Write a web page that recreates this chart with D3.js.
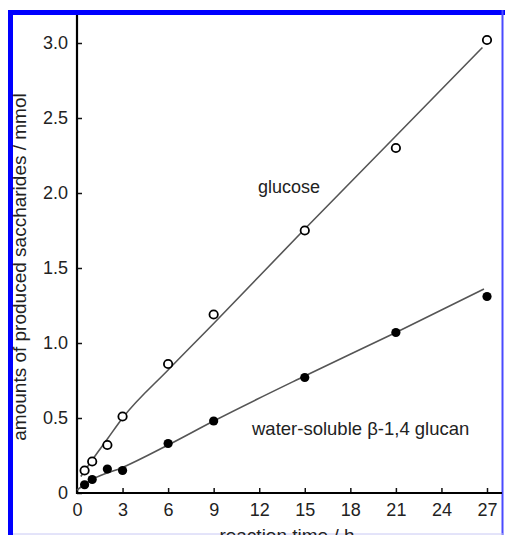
<!DOCTYPE html>
<html>
<head>
<meta charset="utf-8">
<script src="https://cdn.jsdelivr.net/npm/d3@7"></script>
<style>
  body { margin: 0; background: #fff; }
  svg { display: block; }
  text { font-family: "Liberation Sans", Arial, sans-serif; fill: #222; }
</style>
</head>
<body>
<div id="chart"></div>
<script>
// measured points
const hours = [0.5, 1, 2, 3, 6, 9, 15, 21, 27];
const glucose = [0.15, 0.21, 0.32, 0.51, 0.86, 1.19, 1.75, 2.30, 3.02];
const glucan = [0.055, 0.09, 0.16, 0.15, 0.33, 0.48, 0.77, 1.07, 1.31];

// fitted curves
const glucoseFitT = [0.25, 1, 2, 3, 6, 9, 15, 21, 26.7];
const glucoseFitY = [0.11, 0.22, 0.36, 0.50, 0.82, 1.13, 1.76, 2.38, 2.97];
const glucanFitT = [0, 1, 3, 6, 9, 15, 21, 26.8];
const glucanFitY = [0.02, 0.09, 0.17, 0.32, 0.48, 0.78, 1.07, 1.36];

const xTicks = [0, 3, 6, 9, 12, 15, 18, 21, 24, 27];
const yTicks = [0, 0.5, 1.0, 1.5, 2.0, 2.5, 3.0];

function drawChart() {
    const W = 505, H = 535;
    const svg = d3.select("#chart").append("svg")
        .attr("width", W)
        .attr("height", H);

    const x = d3.scaleLinear().domain([0, 27]).range([77, 487]);
    const y = d3.scaleLinear().domain([0, 3]).range([493, 43]);

    // blue frame
    svg.append("rect").attr("x", 8).attr("y", 10).attr("width", 497).attr("height", 5).attr("fill", "#0000ff");
    svg.append("rect").attr("x", 8).attr("y", 10).attr("width", 5).attr("height", 525).attr("fill", "#0000ff");
    svg.append("rect").attr("x", 501.5).attr("y", 10).attr("width", 2).attr("height", 525).attr("fill", "#4a4aff");
    svg.append("line").attr("x1", 13).attr("x2", 503).attr("y1", 534).attr("y2", 534)
        .attr("stroke", "#c8c8f4").attr("stroke-width", 1);

    // axes
    const xAxis = svg.append("g")
        .attr("transform", `translate(0,${y(0)})`)
        .call(d3.axisBottom(x).tickValues(xTicks).tickSize(-5).tickPadding(10).tickFormat(d3.format("d")));
    xAxis.select(".domain").remove();
    xAxis.selectAll(".tick line").attr("stroke", "#111").attr("stroke-width", 1.5);
    xAxis.selectAll("text").style("font-size", "18px").attr("fill", "#222").attr("dy", "0.72em");

    const yAxis = svg.append("g")
        .attr("transform", `translate(${x(0)},0)`)
        .call(d3.axisLeft(y).tickValues(yTicks).tickSize(-5).tickPadding(9)
            .tickFormat(d => d === 0 ? "0" : d.toFixed(1)));
    yAxis.select(".domain").remove();
    yAxis.selectAll(".tick line").attr("stroke", "#111").attr("stroke-width", 1.5);
    yAxis.selectAll("text").style("font-size", "18px").attr("fill", "#222");

    svg.append("line").attr("x1", x(0)).attr("x2", x(0)).attr("y1", 15).attr("y2", y(0) + 1)
        .attr("stroke", "#000").attr("stroke-width", 2.2);
    svg.append("line").attr("x1", x(0) - 1).attr("x2", 502).attr("y1", y(0)).attr("y2", y(0))
        .attr("stroke", "#000").attr("stroke-width", 2.2);

    // axis titles
    svg.append("text")
        .attr("transform", `translate(26,${267}) rotate(-90)`)
        .attr("text-anchor", "middle")
        .style("font-size", "19px")
        .text("amounts of produced saccharides / mmol");

    svg.append("text")
        .attr("x", 287)
        .attr("y", 542)
        .attr("text-anchor", "middle")
        .style("font-size", "19px")
        .text("reaction time / h");

    // fitted lines
    const line = d3.line()
        .x(d => x(d[0]))
        .y(d => y(d[1]))
        .curve(d3.curveMonotoneX);

    svg.append("path")
        .datum(d3.zip(glucoseFitT, glucoseFitY))
        .attr("d", line)
        .attr("fill", "none")
        .attr("stroke", "#555")
        .attr("stroke-width", 1.6);

    svg.append("path")
        .datum(d3.zip(glucanFitT, glucanFitY))
        .attr("d", line)
        .attr("fill", "none")
        .attr("stroke", "#555")
        .attr("stroke-width", 1.6);

    // points
    svg.append("g").selectAll("circle")
        .data(d3.zip(hours, glucan))
        .enter().append("circle")
        .attr("cx", d => x(d[0]))
        .attr("cy", d => y(d[1]))
        .attr("r", 4.6)
        .attr("fill", "#000");

    svg.append("g").selectAll("circle")
        .data(d3.zip(hours, glucose))
        .enter().append("circle")
        .attr("cx", d => x(d[0]))
        .attr("cy", d => y(d[1]))
        .attr("r", 4.2)
        .attr("fill", "#fff")
        .attr("stroke", "#000")
        .attr("stroke-width", 1.8);

    // series labels
    svg.append("text")
        .attr("x", 258)
        .attr("y", 193)
        .style("font-size", "18px")
        .text("glucose");

    svg.append("text")
        .attr("x", 252)
        .attr("y", 435)
        .style("font-size", "18.5px")
        .text("water-soluble \u03b2-1,4 glucan");
}

drawChart();
</script>
</body>
</html>
